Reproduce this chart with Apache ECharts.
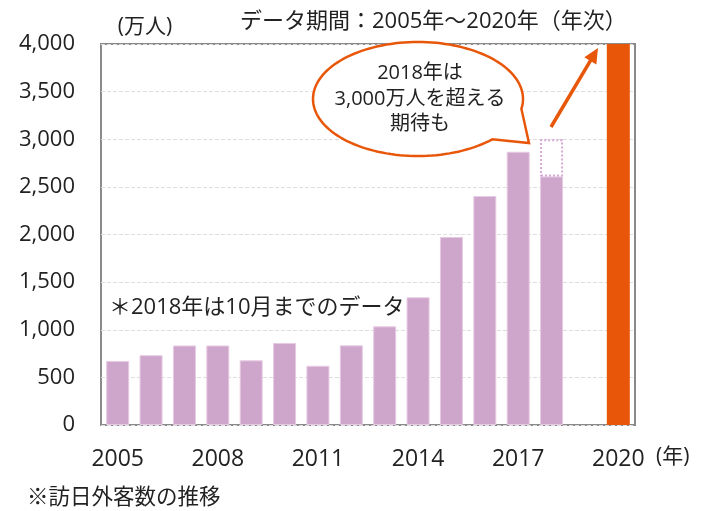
<!DOCTYPE html>
<html>
<head>
<meta charset="utf-8">
<script src="https://cdn.jsdelivr.net/npm/echarts@6/dist/echarts.min.js"></script>
<style>
html, body { margin: 0; padding: 0; background: #fff; }
#main { width: 708px; height: 511px; }
</style>
</head>
<body>
<div id="main"></div>
<script>
var years = ['2005', '2006', '2007', '2008', '2009', '2010', '2011', '2012',
    '2013', '2014', '2015', '2016', '2017', '2018', '2019', '2020'];
var visitors = [673, 733, 835, 835, 679, 861, 622, 836, 1036, 1341, 1974, 2404, 2869, 2610, null, 4000];
// 2018 expected to reach 3,000 (dotted box on top of the Oct figure)
var expected2018 = [null, null, null, null, null, null, null, null, null, null, null, null, null, 390, null, null];
var yTicks = [0, 500, 1000, 1500, 2000, 2500, 3000, 3500, 4000];

var font = '"Open Sans", "Noto Sans CJK JP", sans-serif';
var txt = '#222';
var orange = '#E85709';

var chart = echarts.init(document.getElementById('main'));

var mainData = visitors.map(function (v, i) {
    if (v === null) return '-';
    if (years[i] === '2020') {
        return { value: v, itemStyle: { color: orange, borderWidth: 0 } };
    }
    return v;
});

var option = {
    animation: false,
    textStyle: { fontFamily: font },
    grid: {
        left: 101, right: 73, top: 44, bottom: 86,
        show: true, borderColor: '#8a8a8a', borderWidth: 2, backgroundColor: 'transparent'
    },
    xAxis: {
        type: 'category',
        data: years,
        axisLine: { show: false },
        axisTick: { show: false },
        axisLabel: { interval: 2, margin: 23, fontSize: 23, color: txt, fontFamily: font }
    },
    yAxis: {
        type: 'value',
        min: yTicks[0],
        max: yTicks[yTicks.length - 1],
        interval: 500,
        axisLine: { show: false },
        axisTick: { show: false },
        splitLine: { lineStyle: { color: '#dedede', type: [4, 2], width: 1 } },
        axisLabel: {
            margin: 26, fontSize: 22, color: txt, fontFamily: font,
            formatter: function (v) { return v.toLocaleString('en-US'); }
        }
    },
    series: [
        {
            type: 'bar',
            stack: 'v',
            data: mainData,
            barWidth: 23,
            itemStyle: { color: '#CFA6CB', borderColor: '#E7CBE4', borderWidth: 1 }
        },
        {
            type: 'bar',
            stack: 'v',
            data: expected2018.map(function (v) { return v === null ? '-' : v; }),
            barWidth: 23,
            itemStyle: {
                color: 'rgba(255,255,255,0)',
                borderColor: '#D6A8D3',
                borderWidth: 2,
                borderType: [2, 2]
            }
        }
    ]
};

// speech bubble outline: ellipse points plus a tail
var cx = 418, cy = 99, rx = 105, ry = 57;
var pts = [];
for (var a = 45; a <= 370; a += 2.5) {
    var r = a * Math.PI / 180;
    pts.push([cx + rx * Math.cos(r), cy + ry * Math.sin(r)]);
}
pts.push([529, 143]);
var bubble = {
    type: 'polygon',
    shape: { points: pts },
    style: { fill: '#fff', stroke: orange, lineWidth: 2.5 },
    z: 100
};
var bubbleText = {
    type: 'text',
    x: 420, y: 99,
    style: {
        text: '2018年は\n3,000万人を超える\n期待も',
        fill: txt, font: '20px ' + font,
        align: 'center', verticalAlign: 'middle', lineHeight: 25.5
    },
    z: 101
};

var a0 = [551, 127], a1 = [598, 48];
var dx = a1[0] - a0[0], dy = a1[1] - a0[1];
var len = Math.sqrt(dx * dx + dy * dy);
var ux = dx / len, uy = dy / len;
var bx = a1[0] - ux * 15, by = a1[1] - uy * 15;
var arrowLine = {
    type: 'line',
    shape: { x1: a0[0], y1: a0[1], x2: bx + ux * 2, y2: by + uy * 2 },
    style: { stroke: orange, lineWidth: 3.5 },
    z: 100
};
var arrowHead = {
    type: 'polygon',
    shape: { points: [a1, [bx - uy * 7, by + ux * 7], [bx + uy * 7, by - ux * 7]] },
    style: { fill: orange },
    z: 100
};

function label(x, y, text, size, align) {
    return {
        type: 'text', x: x, y: y,
        style: { text: text, fill: txt, font: size + 'px ' + font, align: align || 'left', verticalAlign: 'middle' },
        z: 50
    };
}

option.graphic = [
    bubble, bubbleText, arrowLine, arrowHead,
    label(145, 27, '(万人)', 21, 'center'),
    label(240, 22, 'データ期間：2005年～2020年（年次）', 22),
    label(109, 308, '＊2018年は10月までのデータ', 22),
    label(656, 457, '(年)', 21),
    label(27, 498, '※訪日外客数の推移', 21.5)
];

chart.setOption(option);

window.onresize = chart.resize;
</script>
</body>
</html>
